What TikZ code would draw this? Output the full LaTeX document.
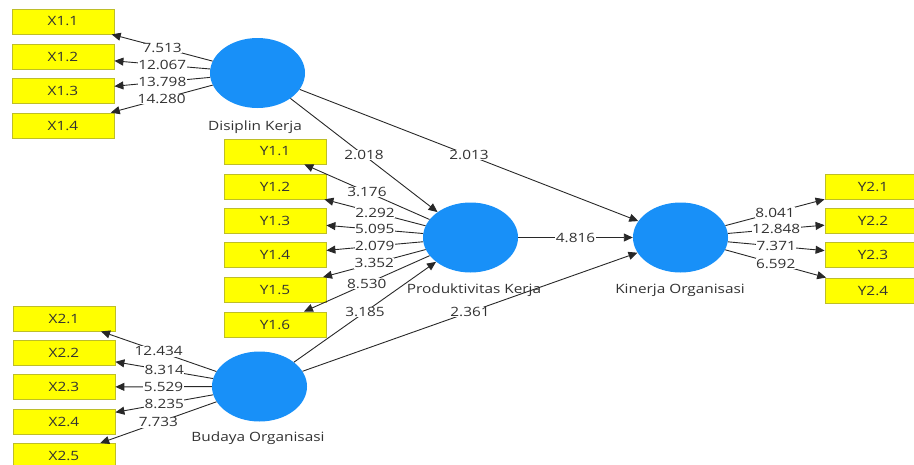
\documentclass[tikz,border=0pt]{standalone}
\usepackage{fontspec}
\usetikzlibrary{shapes.geometric,arrows.meta}
\newfontfamily\lblfont[FakeStretch=1.2]{Open Sans}
\newcommand\lblsize{\fontsize{12.8}{15}\selectfont}
\definecolor{lvblue}{RGB}{24,144,248}
\definecolor{boxyellow}{RGB}{255,255,0}
\definecolor{boxborder}{RGB}{190,190,40}
\definecolor{txtgray}{RGB}{50,50,50}
\definecolor{linegray}{RGB}{40,40,40}
\tikzset{
  ind/.style={draw=boxborder, line width=0.8pt, fill=boxyellow, minimum width=102pt, minimum height=25pt, inner sep=0pt, font=\lblfont\lblsize, text=txtgray},
  lv/.style={ellipse, fill=lvblue, minimum width=95pt, minimum height=70pt, inner sep=0pt},
  lvname/.style={font=\lblfont\lblsize, text=txtgray, inner sep=1pt},
  pathline/.style={draw=linegray, line width=0.9pt, -{Triangle[length=9pt,width=8pt]}},
  val/.style={fill=white, inner sep=0.5pt, font=\lblfont\lblsize, text=txtgray, midway}
}
\begin{document}
\begin{tikzpicture}[x=1pt,y=-1pt]
\useasboundingbox (0,0) rectangle (914,464);
% latent variables
\node[lv] (dk) at (257.5,73) {};
\node[lv] (pk) at (470.5,237.5) {};
\node[lv] (ko) at (680.5,237.5) {};
\node[lv] (bo) at (259.5,386.5) {};
\node[lvname] (dkl) at (255,127) {Disiplin Kerja};
\node[lvname] (pkl) at (474,290) {Produktivitas Kerja};
\node[lvname] (kol) at (680,290) {Kinerja Organisasi};
\node[lvname] (bol) at (258,438) {Budaya Organisasi};
% indicators X1
\node[ind] (x11) at (63,21.5) {X1.1};
\node[ind] (x12) at (63,56.5) {X1.2};
\node[ind] (x13) at (63,91) {X1.3};
\node[ind] (x14) at (63,125.5) {X1.4};
% indicators Y1
\node[ind] (y11) at (275,151.5) {Y1.1};
\node[ind] (y12) at (275,186.5) {Y1.2};
\node[ind] (y13) at (275,221) {Y1.3};
\node[ind] (y14) at (275,255) {Y1.4};
\node[ind] (y15) at (275,290) {Y1.5};
\node[ind] (y16) at (275,324.5) {Y1.6};
% indicators Y2
\node[ind, minimum width=96pt] (y21) at (873,186.5) {Y2.1};
\node[ind, minimum width=96pt] (y22) at (873,221) {Y2.2};
\node[ind, minimum width=96pt] (y23) at (873,255) {Y2.3};
\node[ind, minimum width=96pt] (y24) at (873,290.5) {Y2.4};
% indicators X2
\node[ind] (x21) at (64,318.5) {X2.1};
\node[ind] (x22) at (64,353) {X2.2};
\node[ind] (x23) at (64,387) {X2.3};
\node[ind] (x24) at (64,421.5) {X2.4};
\node[ind] (x25) at (64,456) {X2.5};
% outer loadings
\draw[pathline] (dk) -- node[val]{7.513} (x11);
\draw[pathline] (dk) -- node[val]{12.067} (x12);
\draw[pathline] (dk) -- node[val]{13.798} (x13);
\draw[pathline] (dk) -- node[val]{14.280} (x14);
\draw[pathline] (pk) -- node[val]{3.176} (y11);
\draw[pathline] (pk) -- node[val]{2.292} (y12);
\draw[pathline] (pk) -- node[val]{5.095} (y13);
\draw[pathline] (pk) -- node[val]{2.079} (y14);
\draw[pathline] (pk) -- node[val]{3.352} (y15);
\draw[pathline] (pk) -- node[val]{8.530} (y16);
\draw[pathline] (ko) -- node[val]{8.041} (y21);
\draw[pathline] (ko) -- node[val]{12.848} (y22);
\draw[pathline] (ko) -- node[val]{7.371} (y23);
\draw[pathline] (ko) -- node[val]{6.592} (y24);
\draw[pathline] (bo) -- node[val]{12.434} (x21);
\draw[pathline] (bo) -- node[val]{8.314} (x22);
\draw[pathline] (bo) -- node[val]{5.529} (x23);
\draw[pathline] (bo) -- node[val]{8.235} (x24);
\draw[pathline] (bo) -- node[val]{7.733} (x25);
% structural paths
\draw[pathline] (dk) -- node[val]{2.018} (pk);
\draw[pathline] (dk) -- node[val]{2.013} (ko);
\draw[pathline] (pk) -- node[val]{4.816} (ko);
\draw[pathline] (bo) -- node[val]{3.185} (pk);
\draw[pathline] (bo) -- node[val]{2.361} (ko);
\end{tikzpicture}
\end{document}
